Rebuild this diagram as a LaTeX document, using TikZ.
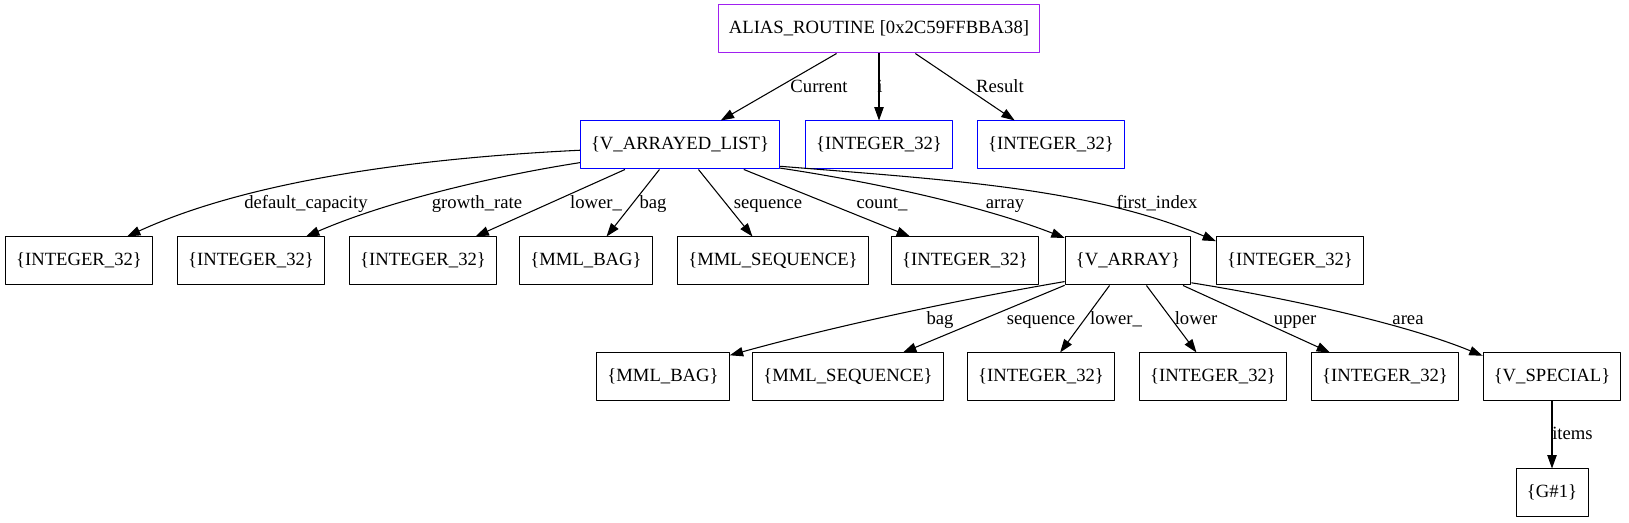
\documentclass[tikz,border=0pt]{standalone}
\usepackage{fontspec}
\setmainfont{Liberation Serif}
\usetikzlibrary{arrows.meta}
\definecolor{rootpurple}{HTML}{A020F0}
\tikzset{
  objbox/.style={draw, line width=0.75pt, minimum height=36pt, minimum width=54pt,
    inner xsep=8pt, inner ysep=0pt, font=\fontsize{14}{16}\selectfont,
    text height=10pt, text depth=3pt},
  rootbox/.style={objbox, draw=rootpurple},
  attrbox/.style={objbox, draw=blue},
  lbl/.style={font=\fontsize{14}{16}\selectfont, inner sep=0pt, text height=10pt, text depth=3pt, yshift=-1.5pt},
  link/.style={draw, line width=0.8pt, -{Triangle[length=10pt,width=7pt]}}
}
\begin{document}
\begin{tikzpicture}[x=0.75pt, y=-0.75pt, line join=round]
  \useasboundingbox (0,0) rectangle (1629,523);
  % boxes
  \node[rootbox] (root) at (879,29) {ALIAS\_ROUTINE [0x2C59FFBBA38]};
  \node[attrbox] (val) at (680,145) {\{V\_ARRAYED\_LIST\}};
  \node[attrbox] (iI) at (879,145) {\{INTEGER\_32\}};
  \node[attrbox] (res) at (1051,145) {\{INTEGER\_32\}};
  \node[objbox] (dcap) at (79,261) {\{INTEGER\_32\}};
  \node[objbox] (grate) at (251,261) {\{INTEGER\_32\}};
  \node[objbox] (lowu) at (423,261) {\{INTEGER\_32\}};
  \node[objbox] (mbag) at (586,261) {\{MML\_BAG\}};
  \node[objbox] (mseq) at (773,261) {\{MML\_SEQUENCE\}};
  \node[objbox] (cnt) at (965,261) {\{INTEGER\_32\}};
  \node[objbox] (varr) at (1128,261) {\{V\_ARRAY\}};
  \node[objbox] (fidx) at (1290,261) {\{INTEGER\_32\}};
  \node[objbox] (bagb) at (663,377) {\{MML\_BAG\}};
  \node[objbox] (seqb) at (848,377) {\{MML\_SEQUENCE\}};
  \node[objbox] (lowub) at (1041,377) {\{INTEGER\_32\}};
  \node[objbox] (lowb) at (1213,377) {\{INTEGER\_32\}};
  \node[objbox] (upp) at (1385,377) {\{INTEGER\_32\}};
  \node[objbox] (vspec) at (1552,377) {\{V\_SPECIAL\}};
  \node[objbox] (gone) at (1552,493) {\{G\#1\}};
  % labels
  \node[lbl] (lcur) at (819,86) {Current};
  \node[lbl] (li) at (880,86) {i};
  \node[lbl] (lres) at (1000,86) {Result};
  \node[lbl] (ldcap) at (306,202) {default\_capacity};
  \node[lbl] (lgrate) at (477,202) {growth\_rate};
  \node[lbl] (llowu) at (596,202) {lower\_};
  \node[lbl] (lmbag) at (653,202) {bag};
  \node[lbl] (lmseq) at (768,202) {sequence};
  \node[lbl] (lcnt) at (882,202) {count\_};
  \node[lbl] (lvarr) at (1005,202) {array};
  \node[lbl] (lfidx) at (1157,202) {first\_index};
  \node[lbl] (lbagb) at (940,318) {bag};
  \node[lbl] (lseqb) at (1041,318) {sequence};
  \node[lbl] (llowub) at (1116,318) {lower\_};
  \node[lbl] (llowb) at (1196,318) {lower};
  \node[lbl] (lupp) at (1295,318) {upper};
  \node[lbl] (larea) at (1408,318) {area};
  \node[lbl, anchor=west] (litems) at (1552,433) {items};
  % edges
  \draw[link] (root.210) -- (val.31);
  \draw[link] (root.south) -- (iI.north);
  \draw[link] (root.326) -- (res.146);
  \draw[link] (val.183) .. controls (420,158) and (250,180) .. (dcap.27);
  \draw[link] (val.190) .. controls (500,175) and (390,200) .. (grate.24);
  \draw[link] (val.204) -- (lowu.25);
  \draw[link] (val.230) -- (mbag.50);
  \draw[link] (val.307) -- (mseq.130);
  \draw[link] (val.339) -- (cnt.156);
  \draw[link] (val.347) .. controls (880,183) and (985,207) .. (varr.160);
  \draw[link] (val.348) .. controls (950,180) and (1090,188) .. (fidx.165);
  \draw[link] (varr.198) .. controls (980,296) and (850,322) .. (bagb.18);
  \draw[link] (varr.201) -- (seqb.24);
  \draw[link] (varr.233) -- (lowub.52);
  \draw[link] (varr.307) -- (lowb.124);
  \draw[link] (varr.336) -- (upp.156);
  \draw[link] (varr.341) .. controls (1250,292) and (1390,318) .. (vspec.163);
  \draw[link] (vspec.south) -- (gone.north);
\end{tikzpicture}
\end{document}
